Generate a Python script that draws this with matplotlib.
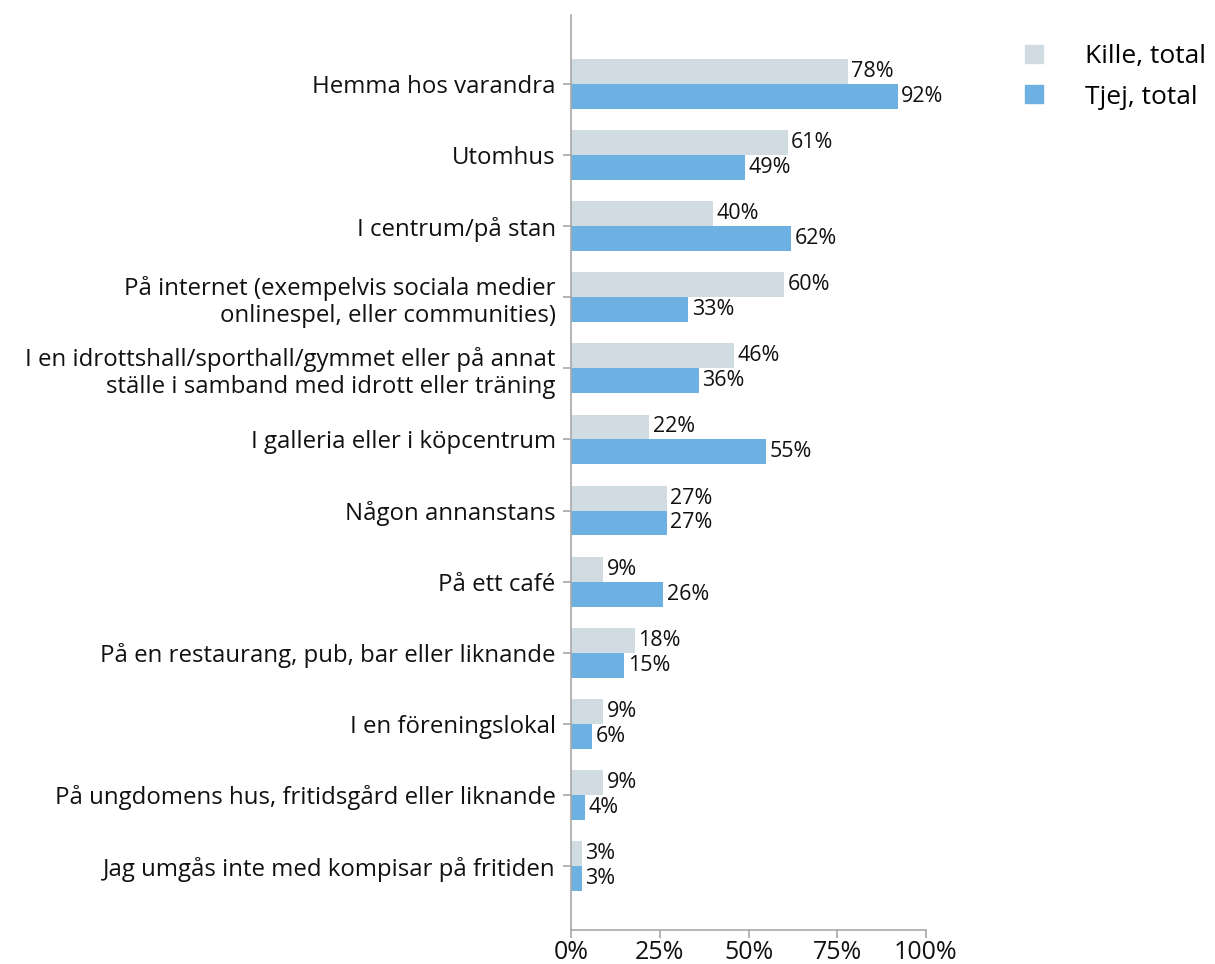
import matplotlib
matplotlib.use("Agg")
import matplotlib.pyplot as plt
from matplotlib.lines import Line2D

categories = [
    "Hemma hos varandra",
    "Utomhus",
    "I centrum/på stan",
    "På internet (exempelvis sociala medier\nonlinespel, eller communities)",
    "I en idrottshall/sporthall/gymmet eller på annat\nställe i samband med idrott eller träning",
    "I galleria eller i köpcentrum",
    "Någon annanstans",
    "På ett café",
    "På en restaurang, pub, bar eller liknande",
    "I en föreningslokal",
    "På ungdomens hus, fritidsgård eller liknande",
    "Jag umgås inte med kompisar på fritiden",
]
kille = [78, 61, 40, 60, 46, 22, 27, 9, 18, 9, 9, 3]
tjej = [92, 49, 62, 33, 36, 55, 27, 26, 15, 6, 4, 3]
series_names = ["Kille, total", "Tjej, total"]
xticks = [0, 25, 50, 75, 100]
xticklabels = ["0%", "25%", "50%", "75%", "100%"]

c_kille = "#D1DCE2"
c_tjej = "#6DB0E2"
axis_col = "#A8A8A8"

plt.rcParams['font.family'] = ['Open Sans', 'DejaVu Sans']

fig = plt.figure(figsize=(12.15, 9.64), dpi=100)
ax = fig.add_axes([571/1215, 1-930/964, 355/1215, (930-15)/964])

h = 0.35
y = list(range(len(categories)))
ax.barh([i - h/2 for i in y], kille, height=h, color=c_kille)
ax.barh([i + h/2 for i in y], tjej, height=h, color=c_tjej)
for i in y:
    ax.text(kille[i] + 1.0, i - h/2, f"{kille[i]}%", va="center", ha="left", fontsize=15.5, color="#111")
    ax.text(tjej[i] + 1.0, i + h/2, f"{tjej[i]}%", va="center", ha="left", fontsize=15.5, color="#111")

ax.set_xlim(0, 100)
ax.set_ylim(11.9, -0.97)
ax.set_yticks(y)
ax.set_yticklabels(categories, fontsize=17.3, linespacing=1.2)
ax.set_xticks(xticks)
ax.set_xticklabels(xticklabels, fontsize=18)
ax.tick_params(axis="both", colors=axis_col, length=6, width=1.2, labelcolor="#111")
ax.tick_params(axis="y", pad=5)
ax.tick_params(axis="x", pad=1)
for s in ["top", "right"]:
    ax.spines[s].set_visible(False)
for s in ["left", "bottom"]:
    ax.spines[s].set_color(axis_col)
    ax.spines[s].set_linewidth(1.2)

handles = [Line2D([], [], marker="s", linestyle="none", markersize=13, color=c_kille),
           Line2D([], [], marker="s", linestyle="none", markersize=13, color=c_tjej)]
fig.legend(handles, series_names, loc="upper left", bbox_to_anchor=(997/1215, 1-20/964),
           frameon=False, fontsize=19, handlelength=1.0, handletextpad=1.45,
           labelspacing=0.6, borderpad=0.4)

fig.savefig("out.png", dpi=100)
